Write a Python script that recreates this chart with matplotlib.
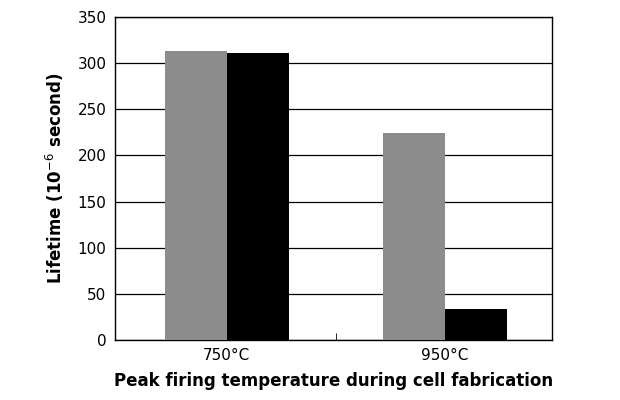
import matplotlib.pyplot as plt
import numpy as np

categories = ['750°C', '950°C']
gray_vals = [313, 224]
black_vals = [311, 34]

fig = plt.figure(figsize=(6.2, 4.0), dpi=100)
ax = fig.add_axes([0.185, 0.15, 0.705, 0.8075])

x = np.arange(len(categories))
w = 0.284
ax.bar(x - w / 2, gray_vals, w, color='#8c8c8c', zorder=3)
ax.bar(x + w / 2, black_vals, w, color='black', zorder=3)

ax.set_ylim(0, 350)
ax.set_yticks(range(0, 351, 50))
ax.set_xlim(-0.514, 1.49)
ax.set_xticks(x)
ax.set_xticklabels(categories)
# small tick between the two groups
ax.set_xticks([0.5], minor=True)
ax.tick_params(axis='x', which='major', length=0, labelsize=11, pad=6)
ax.tick_params(axis='x', which='minor', direction='in', length=5)
ax.tick_params(axis='y', length=0, labelsize=11, pad=6)
ax.yaxis.grid(True, color='black', linewidth=0.9, zorder=0)
for s in ax.spines.values():
    s.set_linewidth(1.0)

ax.set_xlabel('Peak firing temperature during cell fabrication',
              fontsize=12, fontweight='bold', labelpad=6)
ax.set_ylabel('Lifetime (10$^{-6}$ second)', fontsize=12,
              fontweight='bold', labelpad=8)

fig.savefig('out.png', dpi=100)
